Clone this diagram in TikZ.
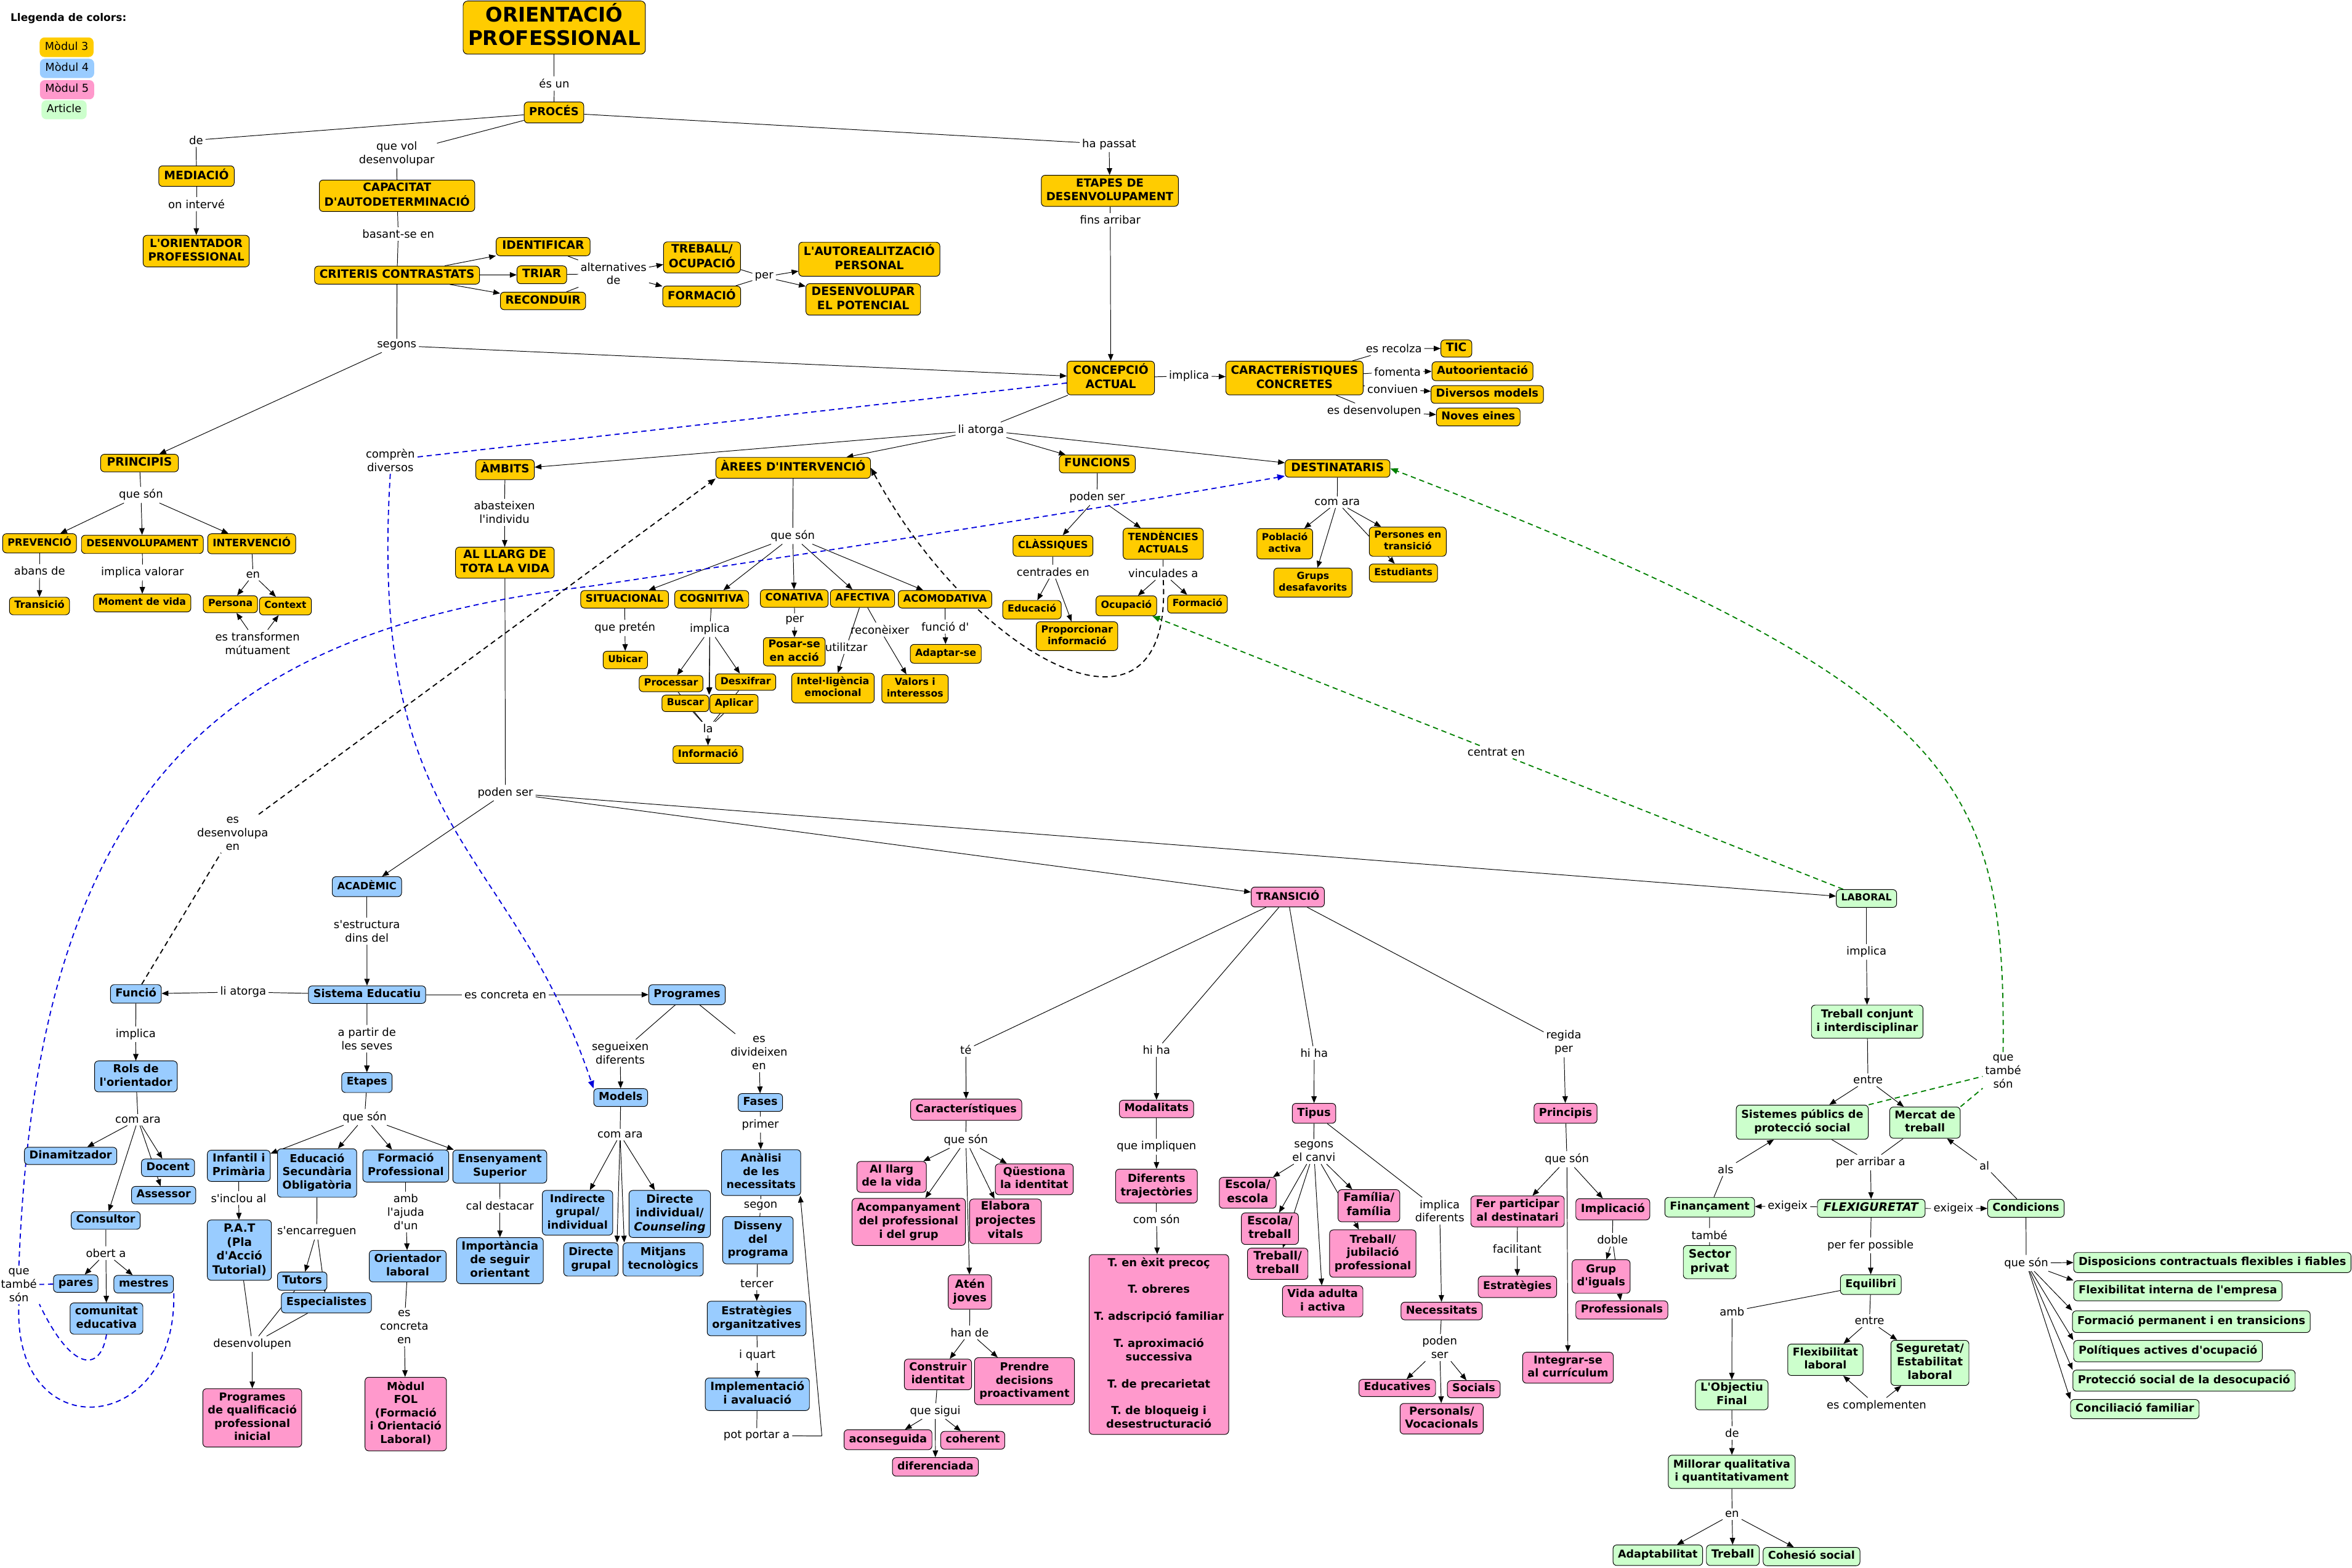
\documentclass[tikz,border=0pt]{standalone}
\usepackage{fontspec}
\usepackage{graphicx}
\usetikzlibrary{arrows.meta}
\newfontfamily\dv{DejaVu Sans}
\definecolor{cy}{RGB}{255,204,0}
\definecolor{cb}{RGB}{153,204,255}
\definecolor{cp}{RGB}{255,153,204}
\definecolor{cg}{RGB}{204,255,204}
\definecolor{dbl}{RGB}{0,0,220}
\definecolor{dgr}{RGB}{0,128,0}
\newlength\mytw
\newlength\mytwb
\newsavebox\mybox
\newcommand\fitbox[2]{\sbox\mybox{\begin{tabular}{@{}c@{}}#2\end{tabular}}\setlength\mytw{\dimexpr#1pt-6.6pt\relax}\setlength\mytwb{0.96\mytw}\ifdim\wd\mybox>\mytwb\resizebox{\mytw}{!}{\usebox\mybox}\else\scalebox{1.04}{\usebox\mybox}\fi}
\newcommand\mynode[7]{\node[#1,minimum width=#5pt,minimum height=#6pt] (#2) at (#3,#4) {\fitbox{#5}{#7}};}
\newcommand\mylab[4]{\node[lab] (#1) at (#2,#3) {#4};}
\pgfdeclarelayer{bg}
\pgfsetlayers{bg,main}
\begin{document}
\begin{tikzpicture}[x=1pt,y=-1pt,
 box/.style={draw=black,line width=0.4pt,rounded corners=2.5pt,inner xsep=1pt,inner ysep=0.5pt,font=\dv\bfseries\fontsize{7.4}{9}\selectfont},
 yel/.style={box,fill=cy},
 blu/.style={box,fill=cb},
 pnk/.style={box,fill=cp},
 grn/.style={box,fill=cg},
 ttl/.style={box,fill=cy,rounded corners=3pt,font=\dv\bfseries\fontsize{13.5}{15.7}\selectfont},
 leg/.style={line width=0.4pt,rounded corners=3pt,inner xsep=1pt,inner ysep=0.5pt,font=\dv\fontsize{7.4}{9}\selectfont},
 lab/.style={font=\dv\fontsize{7.4}{9}\selectfont,align=center,inner sep=1.5pt},
 ln/.style={line width=0.4pt,draw=black},
 arw/.style={ln,-{Triangle[length=4.5pt,width=3.6pt]}},
 dsh/.style={line width=0.75pt,dash pattern=on 3.5pt off 2.5pt},
 dblue/.style={dsh,draw=dbl},
 dblack/.style={dsh,draw=black},
 dgreen/.style={dsh,draw=dgr},
 dtip/.style={-{Triangle[length=5pt,width=4pt]}}
]
\useasboundingbox (0,0) rectangle (1568,1045);

% ---------- legend
\node[anchor=west,font=\dv\bfseries\fontsize{7}{8}\selectfont,inner sep=0pt] (legt) at (6.8,12.4) {Llegenda de colors:};
\mynode{leg,fill=cy,draw=cy}{lg3}{44.4}{31.5}{35.5}{12.6}{Mòdul 3}
\mynode{leg,fill=cb,draw=cb}{lg4}{44.7}{45.6}{35.7}{12.4}{Mòdul 4}
\mynode{leg,fill=cp,draw=cp}{lg5}{44.7}{59.8}{35.7}{12.4}{Mòdul 5}
\mynode{leg,fill=cg,draw=cg}{lga}{42.7}{73.2}{29.7}{12.2}{Article}

% ---------- module 3 (yellow)
\mynode{ttl}{title}{369.5}{18.4}{121.5}{35.4}{ORIENTACIÓ\\PROFESSIONAL}
\mynode{yel}{proc}{369.3}{75}{39.7}{14}{PROCÉS}
\mynode{yel}{med}{131}{117.4}{50.3}{13.7}{MEDIACIÓ}
\mynode{yel}{orient}{130.8}{167.4}{70.7}{21}{L'ORIENTADOR\\PROFESSIONAL}
\mynode{yel}{cap}{264.7}{130.5}{103.6}{21}{CAPACITAT\\D'AUTODETERMINACIÓ}
\mynode{yel}{crit}{264.7}{183.4}{110}{12}{CRITERIS CONTRASTATS}
\mynode{yel}{ident}{362.1}{164.4}{62.6}{12.2}{IDENTIFICAR}
\mynode{yel}{triar}{361.2}{183.2}{33.1}{11.9}{TRIAR}
\mynode{yel}{recond}{362}{200.6}{56.8}{11.7}{RECONDUIR}
\mynode{yel}{treb}{468}{171.6}{51.3}{20.7}{TREBALL/\\OCUPACIÓ}
\mynode{yel}{form}{467.8}{197.6}{52}{13.8}{FORMACIÓ}
\mynode{yel}{autor}{579.5}{172.8}{94.1}{22.7}{L'AUTOREALITZACIÓ\\PERSONAL}
\mynode{yel}{desenv}{575.5}{199.6}{76.4}{21}{DESENVOLUPAR\\EL POTENCIAL}
\mynode{yel}{etapes}{739.9}{127.2}{91.4}{20.7}{ETAPES DE\\DESENVOLUPAMENT}
\mynode{yel}{conc}{740.5}{252}{58.3}{22.5}{CONCEPCIÓ\\ACTUAL}
\mynode{yel}{carac}{863}{252}{91.5}{22.5}{CARACTERÍSTIQUES\\CONCRETES}
\mynode{yel}{tic}{970.9}{232.3}{20.6}{11.5}{TIC}
\mynode{yel}{autoo}{988.3}{247.5}{67.3}{12.6}{Autoorientació}
\mynode{yel}{divm}{991.5}{263}{74.9}{11.8}{Diversos models}
\mynode{yel}{noves}{985.5}{278}{55.8}{12}{Noves eines}
\mynode{yel}{princ}{93}{308.7}{51.8}{11.7}{PRINCIPIS}
\mynode{yel}{ambits}{336.7}{313.1}{39}{13.3}{ÀMBITS}
\mynode{yel}{areas}{528.8}{311.9}{103.1}{13.9}{ÀREES D'INTERVENCIÓ}
\mynode{yel}{func}{731.5}{309.3}{50.6}{11.9}{FUNCIONS}
\mynode{yel}{dest}{891.7}{312.3}{69.9}{11.7}{DESTINATARIS}
\mynode{yel}{prev}{26.4}{362.2}{49.2}{12.8}{PREVENCIÓ}
\mynode{yel}{desv}{94.9}{362.9}{81.2}{12.2}{DESENVOLUPAMENT}
\mynode{yel}{interv}{167.8}{362.5}{58.6}{13.3}{INTERVENCIÓ}
\mynode{yel}{transa}{26.3}{404}{40}{11.7}{Transició}
\mynode{yel}{moment}{94.8}{402}{64.9}{11.9}{Moment de vida}
\mynode{yel}{pers}{153.6}{402.8}{36.2}{11.3}{Persona}
\mynode{yel}{ctx}{190.3}{404}{34.6}{11.9}{Context}
\mynode{yel}{llarg}{336.6}{375.1}{65.8}{20.7}{AL LLARG DE\\TOTA LA VIDA}
\mynode{yel}{sit}{416.4}{399.5}{58.5}{11.7}{SITUACIONAL}
\mynode{yel}{cog}{474.5}{399.5}{49.3}{11.7}{COGNITIVA}
\mynode{yel}{conat}{529.5}{399}{45.2}{11.7}{CONATIVA}
\mynode{yel}{afec}{575}{399}{42.8}{11.7}{AFECTIVA}
\mynode{yel}{acom}{630}{399.5}{62.3}{11.7}{ACOMODATIVA}
\mynode{yel}{ubicar}{416.9}{440}{29.6}{11.7}{Ubicar}
\mynode{yel}{procs}{447.4}{455.7}{42.5}{10.8}{Processar}
\mynode{yel}{desx}{497.1}{454.7}{40.2}{11}{Desxifrar}
\mynode{yel}{busc}{456.9}{468.9}{31.2}{11}{Buscar}
\mynode{yel}{aplic}{489.3}{469.2}{32.2}{12.5}{Aplicar}
\mynode{yel}{info}{472}{503}{46.7}{11.7}{Informació}
\mynode{yel}{posar}{529.5}{434.5}{41.2}{18.9}{Posar-se\\en acció}
\mynode{yel}{intel}{555.3}{458.7}{55}{19.8}{Intel·ligència\\emocional}
\mynode{yel}{valors}{610}{459.2}{44.3}{18.9}{Valors i\\interessos}
\mynode{yel}{adapt}{630.5}{435.9}{47.3}{12.6}{Adaptar-se}
\mynode{yel}{class}{702}{363.9}{53.3}{13.9}{CLÀSSIQUES}
\mynode{yel}{educ}{688}{406.5}{39}{12.4}{Educació}
\mynode{yel}{propor}{718}{424.1}{54.3}{19.2}{Proporcionar\\informació}
\mynode{yel}{tend}{775.5}{362.5}{53.5}{20.7}{TENDÈNCIES\\ACTUALS}
\mynode{yel}{ocup}{750.9}{403.9}{40.5}{13.3}{Ocupació}
\mynode{yel}{formb}{798.3}{402.7}{39.9}{12}{Formació}
\mynode{yel}{pobl}{856.5}{362.5}{37.2}{20.2}{Població\\activa}
\mynode{yel}{grups}{875.3}{388.4}{52.1}{19.4}{Grups\\desafavorits}
\mynode{yel}{perst}{938.5}{361.1}{51.3}{19.5}{Persones en\\transició}
\mynode{yel}{estud}{935.6}{382}{45.5}{12}{Estudiants}

% ---------- module 4 (blue)
\mynode{blu}{acad}{244.6}{591.1}{46.2}{13.3}{ACADÈMIC}
\mynode{blu}{sised}{244.7}{663.1}{78.2}{11.7}{Sistema Educatiu}
\mynode{blu}{funcio}{90.6}{662.6}{33.9}{12.4}{Funció}
\mynode{blu}{progs}{458}{663.1}{51}{13.3}{Programes}
\mynode{blu}{rols}{90.6}{717.6}{55.1}{20.6}{Rols de\\l'orientador}
\mynode{blu}{dinam}{47.1}{770.6}{61.6}{11.5}{Dinamitzador}
\mynode{blu}{docent}{112}{778.5}{35.4}{11.7}{Docent}
\mynode{blu}{assess}{109.1}{796.8}{42.8}{11.7}{Assessor}
\mynode{blu}{consult}{70.5}{813.6}{46}{11.8}{Consultor}
\mynode{blu}{pares}{50.5}{855.7}{29.7}{11.7}{pares}
\mynode{blu}{mestres}{95.8}{856.1}{39.7}{11.7}{mestres}
\mynode{blu}{comun}{71}{879}{48.5}{20.8}{comunitat\\educativa}
\mynode{blu}{etp}{244.6}{721.7}{33.6}{13.3}{Etapes}
\mynode{blu}{infant}{159.2}{777.2}{41.9}{20.8}{Infantil i\\Primària}
\mynode{blu}{eso}{211.4}{782}{52.8}{32.3}{Educació\\Secundària\\Obligatòria}
\mynode{blu}{fp}{270.5}{777.3}{57.3}{21.4}{Formació\\Professional}
\mynode{blu}{ens}{333.2}{777.7}{62.6}{22.1}{Ensenyament\\Superior}
\mynode{blu}{pat}{159.6}{833.4}{42.7}{40.2}{P.A.T\\(Pla\\d'Acció\\Tutorial)}
\mynode{blu}{tutors}{201.5}{854.1}{33}{12.2}{Tutors}
\mynode{blu}{espec}{217.6}{868.5}{60.1}{13.5}{Especialistes}
\mynode{blu}{orlab}{271.8}{844.1}{51.3}{21}{Orientador\\laboral}
\mynode{blu}{import}{333.3}{840.4}{57.8}{30.7}{Importància\\de seguir\\orientant}
\mynode{blu}{models}{413.8}{731.7}{35.9}{11.9}{Models}
\mynode{blu}{indir}{385}{808.5}{46.9}{29.8}{Indirecte\\grupal/\\individual}
\mynode{blu}{dirind}{446.5}{809.3}{54.3}{31.4}{Directe\\individual/\\\textit{Counseling}}
\mynode{blu}{dirgr}{394}{839.6}{36.3}{22.2}{Directe\\grupal}
\mynode{blu}{mitj}{442.1}{839.6}{53.5}{22.2}{Mitjans\\tecnològics}
\mynode{blu}{fases}{506.9}{735}{29.6}{11.9}{Fases}
\mynode{blu}{anal}{507.4}{781.7}{52.8}{30.5}{Anàlisi\\de les\\necessitats}
\mynode{blu}{disseny}{505.3}{826.8}{47}{31.5}{Disseny\\del\\programa}
\mynode{blu}{estrat}{504.4}{879}{65.9}{23}{Estratègies\\organitzatives}
\mynode{blu}{implm}{504.9}{929.5}{69.4}{21.7}{Implementació\\i avaluació}

% ---------- module 5 (pink)
\mynode{pnk}{pqpi}{168.2}{945.2}{65.9}{38.9}{Programes\\de qualificació\\professional\\inicial}
\mynode{pnk}{fol}{270.5}{942.7}{54.3}{49.1}{Mòdul\\FOL\\(Formació\\i Orientació\\Laboral)}
\mynode{pnk}{transic}{858.5}{598}{48.8}{13.3}{TRANSICIÓ}
\mynode{pnk}{caract}{644.1}{739.8}{74.1}{14.2}{Característiques}
\mynode{pnk}{allarg}{594.4}{784.6}{46.3}{20.6}{Al llarg\\de la vida}
\mynode{pnk}{questi}{689.5}{786.2}{52}{20.6}{Qüestiona\\la identitat}
\mynode{pnk}{acomp}{605.8}{814.6}{75.6}{31.4}{Acompanyament\\del professional\\i del grup}
\mynode{pnk}{elab}{670.3}{814.2}{47.8}{29.7}{Elabora\\projectes\\vitals}
\mynode{pnk}{aten}{646.6}{861.3}{28.9}{23}{Atén\\joves}
\mynode{pnk}{constr}{625.3}{916.3}{44.8}{20.5}{Construir\\identitat}
\mynode{pnk}{prendre}{683}{920.8}{66.6}{31.4}{Prendre\\decisions\\proactivament}
\mynode{pnk}{acons}{592}{959.8}{58.6}{13.3}{aconseguida}
\mynode{pnk}{coher}{648.5}{960.2}{42.7}{11.9}{coherent}
\mynode{pnk}{difer}{623.6}{977.9}{57.3}{12.4}{diferenciada}
\mynode{pnk}{modal}{771}{739.3}{49.5}{11.7}{Modalitats}
\mynode{pnk}{diftr}{771}{790.7}{54.5}{22.6}{Diferents\\trajectòries}
\mynode{pnk}{tbox}{772.6}{896.3}{93}{119.9}{T. en èxit precoç\\[9pt]T. obreres\\[9pt]T. adscripció familiar\\[9pt]T. aproximació\\successiva\\[9pt]T. de precarietat\\[9pt]T. de bloqueig i\\desestructuració}
\mynode{pnk}{tipus}{876}{742.2}{29}{13.3}{Tipus}
\mynode{pnk}{esca}{831.8}{795.2}{37.9}{20.6}{Escola/\\escola}
\mynode{pnk}{escb}{846.6}{819.1}{38}{21}{Escola/\\treball}
\mynode{pnk}{trebt}{851.8}{842.5}{40.3}{20.8}{Treball/\\treball}
\mynode{pnk}{vida}{881.8}{867.5}{53.6}{20.8}{Vida adulta\\i activa}
\mynode{pnk}{famil}{912.6}{803.8}{41.2}{21.5}{Família/\\família}
\mynode{pnk}{jubil}{915.2}{835.7}{57.6}{31.6}{Treball/\\jubilació\\professional}
\mynode{pnk}{neces}{961.1}{874}{54.2}{11.8}{Necessitats}
\mynode{pnk}{educt}{931.5}{925.3}{51.1}{11.5}{Educatives}
\mynode{pnk}{socials}{982.5}{926.1}{35.2}{11.5}{Socials}
\mynode{pnk}{persv}{961.1}{945.8}{55.4}{20.4}{Personals/\\Vocacionals}
\mynode{pnk}{princt}{1043.7}{742.2}{42}{13.3}{Principis}
\mynode{pnk}{ferp}{1011.7}{807.6}{62.3}{20.6}{Fer participar\\al destinatari}
\mynode{pnk}{implic}{1075.2}{806.2}{49.3}{14.2}{Implicació}
\mynode{pnk}{estrb}{1011.6}{857.9}{52.3}{14.3}{Estratègies}
\mynode{pnk}{grup}{1067.4}{851}{38.7}{22.4}{Grup\\d'iguals}
\mynode{pnk}{profs}{1081.2}{873.3}{61.3}{12.2}{Professionals}
\mynode{pnk}{integ}{1045.3}{911.8}{60.4}{20.6}{Integrar-se\\al currículum}

% ---------- article (green)
\mynode{grn}{labor}{1244.3}{599}{40.2}{11.9}{LABORAL}
\mynode{grn}{tconj}{1244.8}{681.1}{74.4}{22.1}{Treball conjunt\\i interdisciplinar}
\mynode{grn}{sistp}{1201.5}{748.1}{88}{22.8}{Sistemes públics de\\protecció social}
\mynode{grn}{merc}{1283.3}{748.4}{47}{20.8}{Mercat de\\treball}
\mynode{grn}{flex}{1247.5}{805.5}{71.8}{12}{\textit{FLEXIGURETAT}}
\mynode{grn}{financ}{1139.8}{804.8}{59.8}{13.1}{Finançament}
\mynode{grn}{sector}{1139.8}{841.4}{35.2}{22.1}{Sector\\privat}
\mynode{grn}{condic}{1350.6}{805.5}{51}{12}{Condicions}
\mynode{grn}{equil}{1247.2}{856.4}{40.5}{13.2}{Equilibri}
\mynode{grn}{flexl}{1216.9}{906.5}{50.2}{21}{Flexibilitat\\laboral}
\mynode{grn}{segur}{1286.6}{908.6}{52}{30.1}{Seguretat/\\Estabilitat\\laboral}
\mynode{grn}{disp}{1474.9}{841.7}{184.9}{13.4}{Disposicions contractuals flexibles i fiables}
\mynode{grn}{flexi}{1451.9}{860.5}{138.9}{13.4}{Flexibilitat interna de l'empresa}
\mynode{grn}{fperm}{1460.9}{881.1}{158.5}{14.4}{Formació permanent i en transicions}
\mynode{grn}{polit}{1445.3}{900.7}{125.8}{14.2}{Polítiques actives d'ocupació}
\mynode{grn}{prot}{1456}{920.4}{148.2}{14.1}{Protecció social de la desocupació}
\mynode{grn}{concil}{1423.2}{939.4}{85.7}{12.8}{Conciliació familiar}
\mynode{grn}{objf}{1154.5}{929.9}{48.4}{19.9}{L'Objectiu\\Final}
\mynode{grn}{millor}{1154.5}{981.2}{84.6}{22.2}{Millorar qualitativa\\i quantitativament}
\mynode{grn}{adaptb}{1105.2}{1036.8}{59.7}{13.7}{Adaptabilitat}
\mynode{grn}{trebf}{1155.2}{1036.8}{35.2}{13.7}{Treball}
\mynode{grn}{cohes}{1207.7}{1037.7}{64.5}{12.2}{Cohesió social}

% ---------- linking phrases
\mylab{esun}{369.5}{55.8}{és un}
\mylab{dea}{130.7}{93.4}{de}
\mylab{qvd}{264.5}{102.5}{que vol\\desenvolupar}
\mylab{oninterv}{131}{136}{on intervé}
\mylab{basant}{265.5}{156}{basant-se en}
\mylab{altde}{409}{182.4}{alternatives\\de}
\mylab{pera}{509.4}{184.6}{per}
\mylab{segonsa}{264.5}{230.4}{segons}
\mylab{hapass}{739.4}{96.1}{ha passat}
\mylab{finsarr}{740.2}{146.6}{fins arribar}
\mylab{impla}{792.7}{250.6}{implica}
\mylab{esrec}{929.2}{232.4}{es recolza}
\mylab{foment}{931.7}{247.7}{fomenta}
\mylab{conviu}{928.4}{259.4}{conviuen}
\mylab{esdes}{916.1}{274}{es desenvolupen}
\mylab{liat}{654}{286.7}{li atorga}
\mylab{quesonp}{94}{329.9}{que són}
\mylab{compr}{260.2}{306.7}{comprèn\\diversos}
\mylab{abast}{336.3}{341.6}{abasteixen\\l'individu}
\mylab{podenf}{731.4}{331.5}{poden ser}
\mylab{comarad}{891.5}{334.8}{com ara}
\mylab{abans}{26.4}{380.7}{abans de}
\mylab{implv}{95}{381.6}{implica valorar}
\mylab{ena}{168.7}{383.2}{en}
\mylab{estrf}{171.7}{428.9}{es transformen\\mútuament}
\mylab{quesona}{528.5}{357.3}{que són}
\mylab{quepret}{416.6}{418.6}{que pretén}
\mylab{implc}{473.2}{419.5}{implica}
\mylab{perc}{529.8}{413.4}{per}
\mylab{recon}{586.6}{419.7}{reconèixer}
\mylab{utilit}{564.2}{431.4}{utilitzar}
\mylab{funciod}{630.1}{417.7}{funció d'}
\mylab{lla}{472}{485.7}{la}
\mylab{centr}{702}{381.2}{centrades en}
\mylab{vinc}{775.5}{382.1}{vinculades a}
\mylab{podenm}{336.9}{528.5}{poden ser}
\mylab{esdesen}{155.1}{555.7}{es\\desenvolupa\\en}
\mylab{centrat}{997.5}{501.4}{centrat en}
\mylab{sestr}{244.6}{620.8}{s'estructura\\dins del}
\mylab{liatb}{162.1}{661.3}{li atorga}
\mylab{esconc}{336.9}{663.1}{es concreta en}
\mylab{implf}{90.5}{689.5}{implica}
\mylab{apartir}{244.6}{692.4}{a partir de\\les seves}
\mylab{comarar}{92}{746.5}{com ara}
\mylab{obert}{70.6}{835.4}{obert a}
\mylab{qtsb}{12.6}{856.6}{que\\també\\són}
\mylab{quesone}{243.1}{744.7}{que són}
\mylab{sinclou}{159.1}{798.7}{s'inclou al}
\mylab{sencar}{211.2}{821.2}{s'encarreguen}
\mylab{ambaj}{270.5}{808}{amb\\l'ajuda\\d'un}
\mylab{caldest}{333.3}{804}{cal destacar}
\mylab{desenvl}{168.2}{896}{desenvolupen}
\mylab{esconcb}{269.5}{884.7}{es\\concreta\\en}
\mylab{segdif}{413.5}{702}{segueixen\\diferents}
\mylab{esdiv}{506}{702}{es\\divideixen\\en}
\mylab{comaram}{413.4}{756.4}{com ara}
\mylab{primer}{506.9}{749.8}{primer}
\mylab{segon}{507.1}{804}{segon}
\mylab{tercer}{504.6}{855.7}{tercer}
\mylab{iquart}{504.9}{903.5}{i quart}
\mylab{potport}{504.4}{957.1}{pot portar a}
\mylab{tea}{643.9}{699.8}{té}
\mylab{quesonc}{643.9}{760}{que són}
\mylab{hande}{646.4}{888.3}{han de}
\mylab{quesig}{623.5}{940.7}{que sigui}
\mylab{hihaa}{771}{700}{hi ha}
\mylab{queimpl}{771}{764.4}{que impliquen}
\mylab{comson}{771}{812.8}{com són}
\mylab{hihab}{876.1}{702}{hi ha}
\mylab{segcanv}{875.9}{767.7}{segons\\el canvi}
\mylab{impldif}{959.8}{807.3}{implica\\diferents}
\mylab{podenn}{959.8}{898.4}{poden\\ser}
\mylab{regida}{1042.5}{695}{regida\\per}
\mylab{quesont}{1044.6}{772.8}{que són}
\mylab{facil}{1011.4}{832.7}{facilitant}
\mylab{doble}{1075}{826.5}{doble}
\mylab{impll}{1244.3}{634.5}{implica}
\mylab{entrea}{1245.3}{719.9}{entre}
\mylab{qtsg}{1335.4}{714.2}{que\\també\\són}
\mylab{perarr}{1247}{775}{per arribar a}
\mylab{exigl}{1191.8}{804}{exigeix}
\mylab{exigr}{1302.3}{805.7}{exigeix}
\mylab{alsa}{1150.4}{779.4}{als}
\mylab{tambe}{1139.6}{823.4}{també}
\mylab{ala}{1322.9}{777}{al}
\mylab{perfer}{1247}{830.3}{per fer possible}
\mylab{quesonk}{1350.8}{842}{que són}
\mylab{entreb}{1246.3}{880.5}{entre}
\mylab{escompl}{1251}{937}{es complementen}
\mylab{amba}{1154.7}{874.3}{amb}
\mylab{deo}{1154.7}{955.3}{de}
\mylab{enm}{1154.7}{1009.5}{en}

\coordinate (bmid) at (394.2,390.7);
\coordinate (potc) at (547.9,957.3);

% ---------- connectors
\begin{pgfonlayer}{bg}
\draw[ln] (title)--(esun); \draw[ln] (esun)--(proc);
\draw[ln] (proc)--(dea); \draw[ln] (dea)--(med);
\draw[ln] (med)--(oninterv); \draw[arw] (oninterv)--(orient);
\draw[ln] (proc)--(qvd); \draw[ln] (qvd)--(cap);
\draw[ln] (cap)--(basant); \draw[ln] (basant)--(crit);
\draw[arw] (crit)--(ident); \draw[arw] (crit)--(triar); \draw[arw] (crit)--(recond);
\draw[ln] (ident)--(altde); \draw[ln] (triar)--(altde); \draw[ln] (recond)--(altde);
\draw[arw] (altde)--(treb); \draw[arw] (altde)--(form);
\draw[ln] (treb)--(pera); \draw[ln] (form)--(pera);
\draw[arw] (pera)--(autor); \draw[arw] (pera)--(desenv);
\draw[ln] (proc)--(hapass); \draw[arw] (hapass)--(etapes);
\draw[ln] (etapes)--(finsarr); \draw[arw] (finsarr)--(conc);
\draw[ln] (crit)--(segonsa); \draw[arw] (segonsa)--(conc); \draw[arw] (segonsa)--(princ);
\draw[ln] (conc)--(impla); \draw[arw] (impla)--(carac);
\foreach \myl/\myt in {esrec/tic,foment/autoo,conviu/divm,esdes/noves}{\draw[ln] (carac)--(\myl); \draw[arw] (\myl)--(\myt);}
\draw[ln] (conc)--(liat);
\foreach \myt in {ambits,areas,func,dest}{\draw[arw] (liat)--(\myt);}
\draw[ln] (princ)--(quesonp);
\foreach \myt in {prev,desv,interv}{\draw[arw] (quesonp)--(\myt);}
\draw[ln] (prev)--(abans); \draw[arw] (abans)--(transa);
\draw[ln] (desv)--(implv); \draw[arw] (implv)--(moment);
\draw[ln] (interv)--(ena); \draw[arw] (ena)--(pers); \draw[arw] (ena)--(ctx);
\draw[arw] (estrf)--(pers); \draw[arw] (estrf)--(ctx);
\draw[ln] (ambits)--(abast); \draw[arw] (abast)--(llarg);
\draw[ln] (llarg)--(podenm);
\foreach \myt in {acad,transic,labor}{\draw[arw] (podenm)--(\myt);}
\draw[ln] (areas)--(quesona);
\foreach \myt in {sit,cog,conat,afec,acom}{\draw[arw] (quesona)--(\myt);}
\draw[ln] (sit)--(quepret); \draw[arw] (quepret)--(ubicar);
\draw[ln] (cog)--(implc);
\draw[arw] (implc)--(procs); \draw[arw] (implc)--(desx);
\draw[arw] (implc)--(busc.north east); \draw[arw] (implc)--(aplic.north west);
\foreach \myl in {procs,busc,aplic,desx}{\draw[ln] (\myl)--(lla);}
\draw[arw] (lla)--(info);
\draw[ln] (conat)--(perc); \draw[arw] (perc)--(posar);
\draw[ln] (afec)--(utilit); \draw[arw] (utilit)--(intel);
\draw[ln] (afec)--(recon); \draw[arw] (recon)--(valors);
\draw[ln] (acom)--(funciod); \draw[arw] (funciod)--(adapt);
\draw[ln] (func)--(podenf); \draw[arw] (podenf)--(class); \draw[arw] (podenf)--(tend);
\draw[ln] (class)--(centr); \draw[arw] (centr)--(educ); \draw[arw] (centr)--(propor);
\draw[ln] (tend)--(vinc); \draw[arw] (vinc)--(ocup); \draw[arw] (vinc)--(formb);
\draw[ln] (dest)--(comarad);
\foreach \myt in {pobl,grups,perst,estud}{\draw[arw] (comarad)--(\myt);}
% academic branch
\draw[ln] (acad)--(sestr); \draw[arw] (sestr)--(sised);
\draw[ln] (sised)--(liatb); \draw[arw] (liatb)--(funcio);
\draw[ln] (sised)--(esconc); \draw[arw] (esconc)--(progs);
\draw[ln] (sised)--(apartir); \draw[arw] (apartir)--(etp);
\draw[ln] (funcio)--(implf); \draw[arw] (implf)--(rols);
\draw[ln] (rols)--(comarar);
\foreach \myt in {dinam,docent,assess,consult}{\draw[arw] (comarar)--(\myt);}
\draw[ln] (consult)--(obert);
\foreach \myt in {pares,mestres,comun}{\draw[arw] (obert)--(\myt);}
\draw[ln] (etp)--(quesone);
\foreach \myt in {infant,eso,fp,ens}{\draw[arw] (quesone)--(\myt);}
\draw[ln] (infant)--(sinclou); \draw[arw] (sinclou)--(pat);
\draw[ln] (eso)--(sencar); \draw[arw] (sencar)--(tutors); \draw[arw] (sencar)--(espec);
\draw[ln] (fp)--(ambaj); \draw[arw] (ambaj)--(orlab);
\draw[ln] (orlab)--(esconcb); \draw[arw] (esconcb)--(fol);
\draw[ln] (ens)--(caldest); \draw[arw] (caldest)--(import);
\foreach \myl in {pat,tutors,espec}{\draw[ln] (\myl)--(desenvl);}
\draw[arw] (desenvl)--(pqpi);
\draw[ln] (progs)--(segdif); \draw[arw] (segdif)--(models);
\draw[ln] (models)--(comaram);
\draw[arw] (comaram)--(indir); \draw[arw] (comaram)--(dirind);
\draw[arw] (comaram)--([xshift=-1pt]dirgr.north east); \draw[arw] (comaram)--([xshift=1pt]mitj.north west);
\draw[ln] (progs)--(esdiv); \draw[arw] (esdiv)--(fases);
\draw[ln] (fases)--(primer); \draw[arw] (primer)--(anal);
\draw[ln] (anal)--(segon); \draw[ln] (segon)--(disseny);
\draw[ln] (disseny)--(tercer); \draw[arw] (tercer)--(estrat);
\draw[ln] (estrat)--(iquart); \draw[arw] (iquart)--(implm);
\draw[ln] (implm)--(potport); \draw[ln] (potport)--(potc); \draw[arw] (potc)--([xshift=-0.5pt]anal.south east);
% transition branch
\draw[ln] (transic)--(tea); \draw[arw] (tea)--(caract);
\draw[ln] (caract)--(quesonc);
\foreach \myt in {allarg,questi,acomp,elab,aten}{\draw[arw] (quesonc)--(\myt);}
\draw[ln] (aten)--(hande); \draw[arw] (hande)--(constr); \draw[arw] (hande)--(prendre);
\draw[ln] (constr)--(quesig);
\foreach \myt in {acons,coher,difer}{\draw[arw] (quesig)--(\myt);}
\draw[ln] (transic)--(hihaa); \draw[arw] (hihaa)--(modal);
\draw[ln] (modal)--(queimpl); \draw[arw] (queimpl)--(diftr);
\draw[ln] (diftr)--(comson); \draw[arw] (comson)--(tbox);
\draw[ln] (transic)--(hihab); \draw[arw] (hihab)--(tipus);
\draw[ln] (tipus)--(segcanv);
\foreach \myt in {esca,escb,trebt,vida,famil,jubil}{\draw[arw] (segcanv)--(\myt);}
\draw[ln] (tipus)--(impldif); \draw[arw] (impldif)--(neces);
\draw[ln] (neces)--(podenn);
\foreach \myt in {educt,socials,persv}{\draw[arw] (podenn)--(\myt);}
\draw[ln] (transic)--(regida); \draw[arw] (regida)--(princt);
\draw[ln] (princt)--(quesont);
\foreach \myt in {ferp,implic,integ}{\draw[arw] (quesont)--(\myt);}
\draw[ln] (ferp)--(facil); \draw[arw] (facil)--(estrb);
\draw[ln] (implic)--(doble); \draw[arw] (doble)--(grup); \draw[arw] (doble)--(profs);
% labour branch
\draw[ln] (labor)--(impll); \draw[arw] (impll)--(tconj);
\draw[ln] (tconj)--(entrea); \draw[arw] (entrea)--(sistp); \draw[arw] (entrea)--(merc);
\draw[ln] (sistp)--(perarr); \draw[ln] (merc)--(perarr); \draw[arw] (perarr)--(flex);
\draw[ln] (flex)--(exigl); \draw[arw] (exigl)--(financ);
\draw[ln] (flex)--(exigr); \draw[arw] (exigr)--(condic);
\draw[ln] (financ)--(alsa); \draw[arw] (alsa)--(sistp);
\draw[ln] (financ)--(tambe); \draw[ln] (tambe)--(sector);
\draw[ln] (condic)--(ala); \draw[arw] (ala)--(merc);
\draw[ln] (condic)--(quesonk);
\draw[arw] (quesonk)--(disp.west);
\foreach \myt in {flexi,fperm,polit,prot,concil}{\draw[arw] (quesonk)--(\myt.north west);}
\draw[ln] (flex)--(perfer); \draw[arw] (perfer)--(equil);
\draw[ln] (equil)--(entreb); \draw[arw] (entreb)--(flexl); \draw[arw] (entreb)--(segur);
\draw[arw] (escompl)--(flexl); \draw[arw] (escompl)--(segur);
\draw[ln] (equil)--(amba); \draw[arw] (amba)--(objf);
\draw[ln] (objf)--(deo); \draw[arw] (deo)--(millor);
\draw[ln] (millor)--(enm);
\foreach \myt in {adaptb,trebf,cohes}{\draw[arw] (enm)--(\myt);}
% dashed cross links
\draw[dblue] (conc)--(compr);
\draw[dblue,dtip] (compr.south) .. controls (245,560) and (340,560) .. (models.north west);
\draw[dblue] (pares)--(qtsb);
\draw[dblue] (mestres.south east) .. controls (118,958) and (8,966) .. (qtsb.south);
\draw[dblue] (comun.south) .. controls (67,915) and (48,915) .. (qtsb.south east);
\draw[dblue,dtip] (qtsb.north) .. controls (25,520) and (150,420) .. (bmid) .. controls (560,366) and (740,338) .. ([yshift=1pt]dest.south west);
\draw[dblack] (funcio)--(esdesen);
\draw[dblack,dtip] (esdesen)--(areas.south west);
\draw[dblack,dtip] (vinc.south) .. controls (782,510) and (650,440) .. (areas.east);
\draw[dgreen] (labor)--(centrat);
\draw[dgreen,dtip] (centrat)--(ocup);
\draw[dgreen] (sistp.north east)--(qtsg);
\draw[dgreen] (merc.north east)--(qtsg);
\draw[dgreen,dtip] (qtsg.north) .. controls (1337,520) and (1310,460) .. (dest.east);
\end{pgfonlayer}
\end{tikzpicture}
\end{document}
